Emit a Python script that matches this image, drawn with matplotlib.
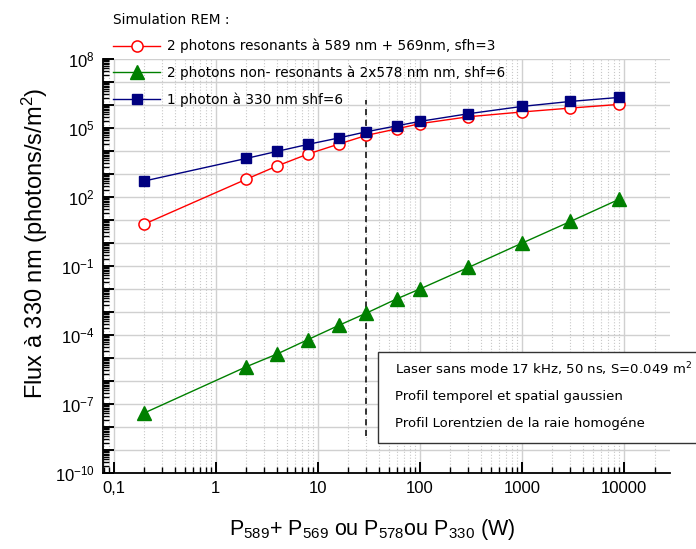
import matplotlib
matplotlib.use('Agg')
import matplotlib.pyplot as plt
import numpy as np
from matplotlib.ticker import FixedLocator, FuncFormatter, NullFormatter
from matplotlib.patches import Rectangle

plt.rcParams['font.family'] = ['Liberation Sans', 'DejaVu Sans']
plt.rcParams['mathtext.default'] = 'regular'

# puissance laser (W)
P = [0.2, 2, 4, 8, 16, 30, 60, 100, 300, 1000, 3000, 9000]
# flux a 330 nm (photons/s/m2)
flux_2ph_res = [6.7, 600, 2250, 7400, 2.0e4, 4.8e4, 9.3e4, 1.55e5, 3.1e5, 5.0e5, 7.4e5, 1.07e6]
flux_2ph_nonres = [4.1e-8, 4.2e-6, 1.5e-5, 6.3e-5, 2.6e-4, 9e-4, 3.8e-3, 1.0e-2, 0.087, 0.98, 8.7, 80]
flux_1ph = [500, 4800, 9700, 1.95e4, 3.7e4, 6.9e4, 1.26e5, 1.95e5, 4.2e5, 8.7e5, 1.44e6, 2.15e6]

labels = ['2 photons resonants à 589 nm + 569nm, sfh=3',
          '2 photons non- resonants à 2x578 nm nm, shf=6',
          '1 photon à 330 nm shf=6']
x_ticks = [0.1, 1, 10, 100, 1000, 10000]
x_ticklabels = ['0,1', '1', '10', '100', '1000', '10000']
P_seuil = 30          # ligne verticale en tirets
seuil_range = [4e-9, 1.6e6]
box_lines = ['Laser sans mode 17 kHz, 50 ns, S=0.049 m$^{2}$',
             'Profil temporel et spatial gaussien',
             'Profil Lorentzien de la raie homogéne']

fig = plt.figure(figsize=(6.96, 5.49), dpi=100)
ax = fig.add_axes([0.148, 0.1384, 0.8147, 0.754])

ax.grid(True, which='major', color='#d0d0d0', linewidth=1.0, zorder=0)
ax.grid(True, which='minor', axis='x', color='#c8c8c8', linewidth=0.8, linestyle=':', zorder=0)

l1, = ax.plot(P, flux_2ph_res, '-', color='red', linewidth=1, marker='o', markersize=8,
              markerfacecolor='white', markeredgecolor='red', markeredgewidth=1.1, zorder=3)
l2, = ax.plot(P, flux_2ph_nonres, '-', color='green', linewidth=1, marker='^', markersize=9.5,
              markerfacecolor='green', markeredgecolor='green', zorder=3)
l3, = ax.plot(P, flux_1ph, '-', color='navy', linewidth=1, marker='s', markersize=7.5,
              markerfacecolor='navy', markeredgecolor='navy', zorder=3)

ax.plot([P_seuil, P_seuil], seuil_range, '--', color='black', linewidth=1.1, dashes=(4, 3), zorder=2)

ax.set_xscale('log')
ax.set_yscale('log')
ax.set_xlim(0.0786, 28400)
ax.set_ylim(1e-10, 1e8)

# axe x
ax.xaxis.set_major_locator(FixedLocator(x_ticks))
ax.xaxis.set_major_formatter(FuncFormatter(lambda v, pos: x_ticklabels[pos] if pos is not None and pos < len(x_ticklabels) else ''))
ax.xaxis.set_minor_locator(matplotlib.ticker.LogLocator(base=10, subs=np.arange(2, 10), numticks=20))
ax.xaxis.set_minor_formatter(NullFormatter())

# axe y : tick a chaque decade, etiquette toutes les 3 decades
ax.yaxis.set_major_locator(FixedLocator([10.0 ** k for k in range(-10, 9)]))
ax.yaxis.set_major_formatter(FuncFormatter(lambda v, pos: '$10^{%d}$' % round(np.log10(v)) if round(np.log10(v)) % 3 == 2 else ''))
ax.yaxis.set_minor_locator(matplotlib.ticker.LogLocator(base=10, subs=np.arange(2, 10), numticks=40))
ax.yaxis.set_minor_formatter(NullFormatter())

ax.tick_params(which='major', direction='in', length=8, width=1.4, labelsize=12, pad=6)
ax.tick_params(which='minor', direction='in', length=4, width=1.0)
ax.spines['top'].set_visible(False)
ax.spines['right'].set_visible(False)
ax.spines['left'].set_linewidth(1.3)
ax.spines['bottom'].set_linewidth(1.3)

ax.set_ylabel('Flux à 330 nm (photons/s/m$^{2}$)', fontsize=17)
ax.yaxis.set_label_coords(-0.094, 0.555)
ax.set_xlabel('P$_{589}$+ P$_{569}$ ou P$_{578}$ou P$_{330}$ (W)', fontsize=15.5)
ax.xaxis.set_label_coords(0.475, -0.106)

leg = fig.legend([l1, l2, l3], labels, loc='upper left', bbox_to_anchor=(0.159, 0.982),
                 frameon=False, title='Simulation REM :', alignment='left',
                 handlelength=3.4, handletextpad=0.55,
                 labelspacing=0.9, borderaxespad=0, borderpad=0.2,
                 prop={'family': ['DejaVu Sans'], 'size': 9.8}, title_fontsize=9.8)
leg.get_title().set_family(['DejaVu Sans'])

# encadre d'informations
fig.patches.append(Rectangle((378 / 696, 1 - 443 / 549), 0.6, (443 - 352) / 549,
                             transform=fig.transFigure, facecolor='white', edgecolor='#333333',
                             linewidth=1.0, zorder=5))
for i, txt in enumerate(box_lines):
    fig.text(395 / 696, 1 - (369 + 27.5 * i) / 549, txt, fontsize=9.5, va='center', ha='left',
             family=['DejaVu Sans'], zorder=6)

fig.savefig('out.png', dpi=100)
